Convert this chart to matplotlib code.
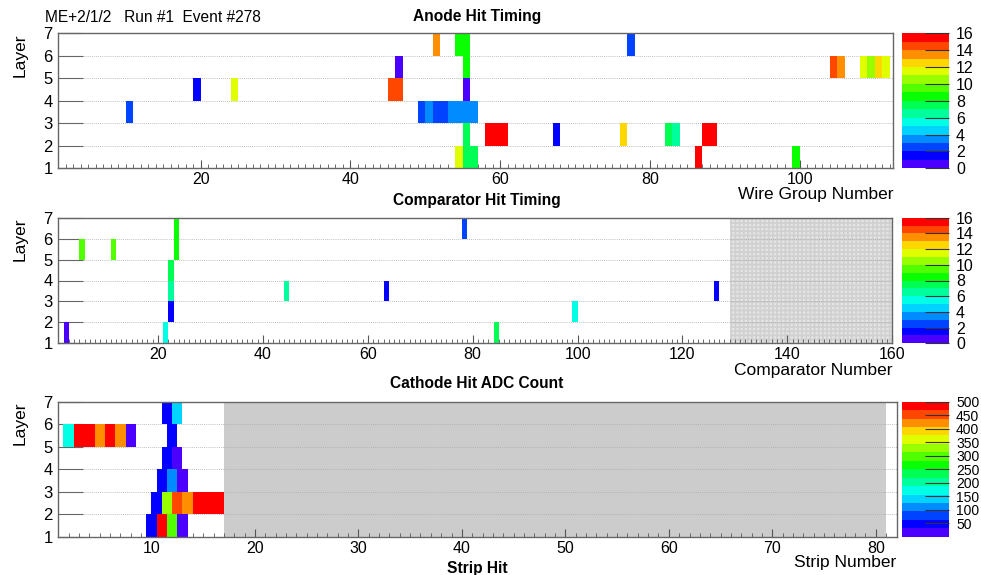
import numpy as np
import matplotlib
matplotlib.use("Agg")
import matplotlib.pyplot as plt
from matplotlib.colors import ListedColormap, BoundaryNorm
from matplotlib.ticker import MultipleLocator

plt.rcParams["font.family"] = ["Liberation Sans", "DejaVu Sans"]
plt.rcParams["hatch.linewidth"] = 1.2

# ROOT "pretty" palette, 16 contour colours, violet -> red
palette = ["#4b00ff", "#0300ff", "#0044ff", "#008bff", "#00d3ff", "#00ffe4",
           "#00ff9c", "#00ff55", "#0aff00", "#52ff00", "#99ff00", "#e0ff00",
           "#ffd600", "#ff8f00", "#ff4700", "#ff0000"]

# anode hits: layer, wire group, time bin
anode_layer = [6, 6, 6, 6,
               5, 5, 5, 5, 5, 5, 5, 5,
               4, 4, 4, 4, 4,
               3, 3, 3, 3, 3, 3, 3, 3, 3,
               2, 2, 2, 2, 2, 2, 2, 2, 2, 2,
               1, 1, 1, 1, 1]
anode_wg = [51, 54, 55, 77,
            46, 55, 104, 105, 108, 109, 110, 111,
            19, 24, 45, 46, 55,
            10, 49, 50, 51, 52, 53, 54, 55, 56,
            55, 58, 59, 60, 67, 76, 82, 83, 87, 88,
            54, 55, 56, 86, 99]
anode_time = [13, 8, 8, 2,
              0, 8, 14, 13, 11, 10, 12, 11,
              1, 11, 14, 14, 0,
              2, 2, 3, 2, 2, 3, 3, 3, 3,
              7, 15, 15, 15, 1, 12, 7, 6, 15, 15,
              11, 7, 7, 15, 8]

# comparator hits: layer, half-strip, time bin
comp_layer = [6, 6, 5, 5, 5, 4, 3, 3, 3, 3, 2, 2, 1, 1, 1]
comp_hs = [23, 78, 5, 11, 23, 22, 22, 44, 63, 126, 22, 99, 2, 21, 84]
comp_time = [8, 2, 9, 9, 8, 7, 6, 6, 1, 1, 1, 5, 0, 5, 7]

# cathode hits: layer, strip, ADC count
strip_layer = [1, 1, 1, 1,
               2, 2, 2, 2, 2, 2, 2,
               3, 3, 3,
               4, 4,
               5, 5, 5, 5, 5, 5, 5, 5,
               6, 6]
strip_num = [10, 11, 12, 13,
             10, 11, 12, 13, 14, 15, 16,
             11, 12, 13,
             11, 12,
             2, 3, 4, 5, 6, 7, 8, 12,
             11, 12]
strip_adc = [48, 488, 296, 22,
             52, 330, 452, 418, 492, 497, 490,
             50, 112, 25,
             55, 28,
             170, 490, 495, 420, 488, 415, 20, 45,
             40, 140]
strip_stagger = [-0.5, 0.0, -0.5, 0.0, -0.5, 0.0]

W, H = 981, 575
fig = plt.figure(figsize=(W / 100, H / 100), dpi=100)


def box(x0, x1, top, bottom):
    return [x0 / W, 1 - bottom / H, (x1 - x0) / W, (bottom - top) / H]


def hit_grid(layers, pos, vals, n):
    grid = np.ma.masked_all((6, n))
    for l, p, v in zip(layers, pos, vals):
        grid[l - 1, p - 1] = v
    return grid


def style(ax, xlim, major):
    ax.set_xlim(*xlim)
    ax.set_ylim(1, 7)
    ax.set_yticks(range(1, 8))
    ax.xaxis.set_major_locator(MultipleLocator(major))
    ax.xaxis.set_minor_locator(MultipleLocator(1))
    ax.tick_params(axis="x", which="both", direction="in", color="#555555",
                   labelsize=11.5, pad=3)
    ax.tick_params(axis="x", which="major", length=6)
    ax.tick_params(axis="x", which="minor", length=3)
    ax.tick_params(axis="y", direction="in", length=18, color="#666666",
                   labelsize=12, pad=4)
    for y in range(2, 7):
        ax.axhline(y, color="#a8a8a8", ls=(0, (1, 1.5)), lw=0.6, zorder=1.5)
    for s in ax.spines.values():
        s.set_color("#666666")
        s.set_linewidth(1.0)


def colorbar(mesh, cax, ticks, size):
    cb = fig.colorbar(mesh, cax=cax, ticks=ticks)
    cb.outline.set_visible(False)
    cb.minorticks_off()
    cax.tick_params(direction="in", length=17, width=0.8, color="#333333",
                    labelsize=size, pad=5)


timing_cmap = ListedColormap(palette)
timing_norm = BoundaryNorm(np.arange(0, 17), 16)

# anode panel
ax1 = fig.add_axes(box(58.3, 893.3, 33.3, 168.3))
cax1 = fig.add_axes(box(902, 949, 33.3, 168.3))
grid = hit_grid(anode_layer, anode_wg, anode_time, 112)
m1 = ax1.pcolormesh(np.arange(1, 114), np.arange(1, 8), grid,
                    cmap=timing_cmap, norm=timing_norm, zorder=2)
style(ax1, (1, 112.5), 20)
colorbar(m1, cax1, range(0, 17, 2), 11.5)

# comparator panel
ax2 = fig.add_axes(box(58.3, 892.3, 217.7, 343.3))
cax2 = fig.add_axes(box(902, 949, 217.7, 343.3))
ax2.axvspan(129, 160, facecolor="#e4e4e4", edgecolor="#d0d0d0",
            hatch="++++", lw=0, zorder=1)
grid = hit_grid(comp_layer, comp_hs, comp_time, 160)
m2 = ax2.pcolormesh(np.arange(1, 162), np.arange(1, 8), grid,
                    cmap=timing_cmap, norm=timing_norm, zorder=2)
style(ax2, (1, 160), 20)
colorbar(m2, cax2, range(0, 17, 2), 11.5)

# cathode panel, alternate layers staggered by half a strip
ax3 = fig.add_axes(box(58.3, 896.5, 401.7, 536.7))
cax3 = fig.add_axes(box(902, 949, 401.7, 536.7))
ax3.axvspan(17, 81, facecolor="#cccccc", lw=0, zorder=1)
adc_norm = BoundaryNorm(np.linspace(0, 500, 17), 16)
grid = hit_grid(strip_layer, strip_num, strip_adc, 81)
edges = np.arange(1, 83)
for i in range(6):
    m3 = ax3.pcolormesh(edges + strip_stagger[i], [i + 1, i + 2], grid[i:i + 1],
                        cmap=timing_cmap, norm=adc_norm, zorder=2)
style(ax3, (1, 82), 10)
colorbar(m3, cax3, range(50, 501, 50), 10)

# titles and labels
fig.text(45 / W, 1 - 17 / H, "ME+2/1/2   Run #1  Event #278", fontsize=11.2,
         va="center", ha="left")
for y, t in [(17, "Anode Hit Timing"), (200, "Comparator Hit Timing"),
             (384, "Cathode Hit ADC Count"), (568, "Strip Hit")]:
    fig.text(477 / W, 1 - y / H, t, fontsize=11.2, fontweight="bold",
             ha="center", va="center")
for top in [33.3, 217.7, 401.7]:
    fig.text(20 / W, 1 - top / H, "Layer", rotation=90, fontsize=12.5,
             ha="center", va="top")
for x, y, t in [(894, 195, "Wire Group Number"), (892, 371, "Comparator Number"),
                (896, 563, "Strip Number")]:
    fig.text(x / W, 1 - y / H, t, fontsize=12.5, ha="right", va="center")

fig.savefig("out.png", dpi=100)
